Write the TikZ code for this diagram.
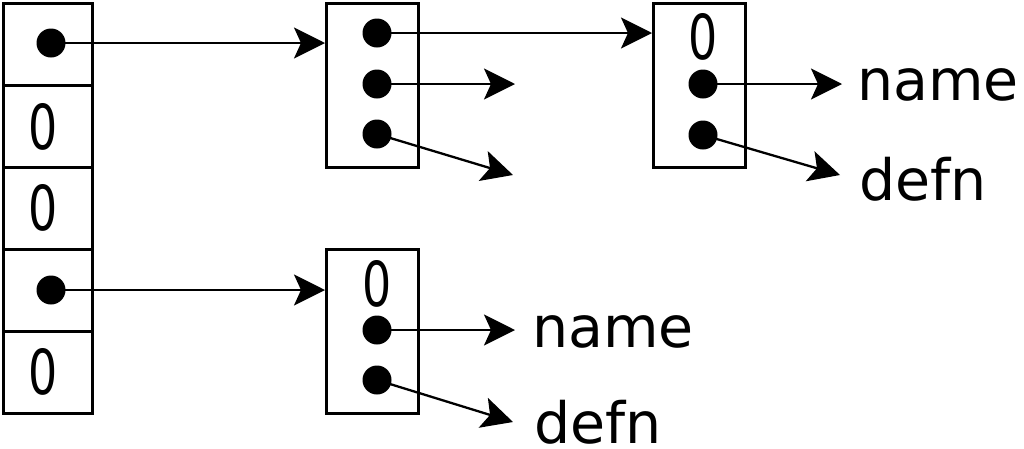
\documentclass[tikz,border=0pt]{standalone}
\usepackage{fontspec}
\usepackage{graphicx}
\setmainfont{DejaVu Sans}
\usetikzlibrary{arrows.meta}

\begin{document}
\begin{tikzpicture}[x=1pt,y=-1pt,
  cell/.style={draw, line width=2.6pt, minimum width=89pt, minimum height=82pt, inner sep=0pt, anchor=north west},
  rec/.style={draw, line width=2.6pt, minimum width=92pt, minimum height=164pt, inner sep=0pt, anchor=north west},
  dot/.style={circle, fill=black, minimum size=29pt, inner sep=0pt},
  zero/.style={inner sep=0pt, font=\fontsize{62}{62}\selectfont},
  lbl/.style={inner sep=0pt, anchor=base west, font=\fontsize{57}{57}\selectfont},
  ptr/.style={line width=2.3pt, -{Stealth[length=31pt,width=31pt,inset=7pt]}}
]
\useasboundingbox (0,0) rectangle (1024,448);

% bucket array
\node[cell] (t1) at (2,2) {};
\node[cell] (t2) at (2,84) {};
\node[cell] (t3) at (2,166) {};
\node[cell] (t4) at (2,248) {};
\node[cell] (t5) at (2,330) {};
\node[dot] (p1) at (51,43) {};
\node[zero] (z2) at (43,127) {\scalebox{0.74}[1]{0}};
\node[zero] (z3) at (43,208) {\scalebox{0.74}[1]{0}};
\node[dot] (p4) at (51,290) {};
\node[zero] (z5) at (43,372) {\scalebox{0.74}[1]{0}};

% first chained entry
\node[rec] (A) at (325,2) {};
\node[dot] (a1) at (377,33) {};
\node[dot] (a2) at (377,84) {};
\node[dot] (a3) at (377,134) {};

% second chained entry
\node[rec] (B) at (652,2) {};
\node[zero] (bz) at (703,37) {\scalebox{0.74}[1]{0}};
\node[dot] (b1) at (703,84) {};
\node[dot] (b2) at (703,135) {};
\node[lbl] (bn) at (857,100) {name};
\node[lbl] (bd) at (859,200) {defn};

% entry of the fourth bucket
\node[rec] (C) at (325,248) {};
\node[zero] (cz) at (377,284) {\scalebox{0.74}[1]{0}};
\node[dot] (c1) at (377,330) {};
\node[dot] (c2) at (377,380) {};
\node[lbl] (cn) at (532,347) {name};
\node[lbl] (cd) at (534,443) {defn};

% free arrow ends
\coordinate (a2e) at (515,84);
\coordinate (a3e) at (513,175);
\coordinate (b1e) at (842,84);
\coordinate (b2e) at (840,175);
\coordinate (c1e) at (515,330);
\coordinate (c2e) at (513,422);

% pointers
\draw[ptr] (p1.center) -- (p1.center -| A.west);
\draw[ptr] (p4.center) -- (p4.center -| C.west);
\draw[ptr] (a1.center) -- (a1.center -| B.west);
\draw[ptr] (a2.center) -- (a2e);
\draw[ptr] (a3.center) -- (a3e);
\draw[ptr] (b1.center) -- (b1e);
\draw[ptr] (b2.center) -- (b2e);
\draw[ptr] (c1.center) -- (c1e);
\draw[ptr] (c2.center) -- (c2e);
\end{tikzpicture}
\end{document}
